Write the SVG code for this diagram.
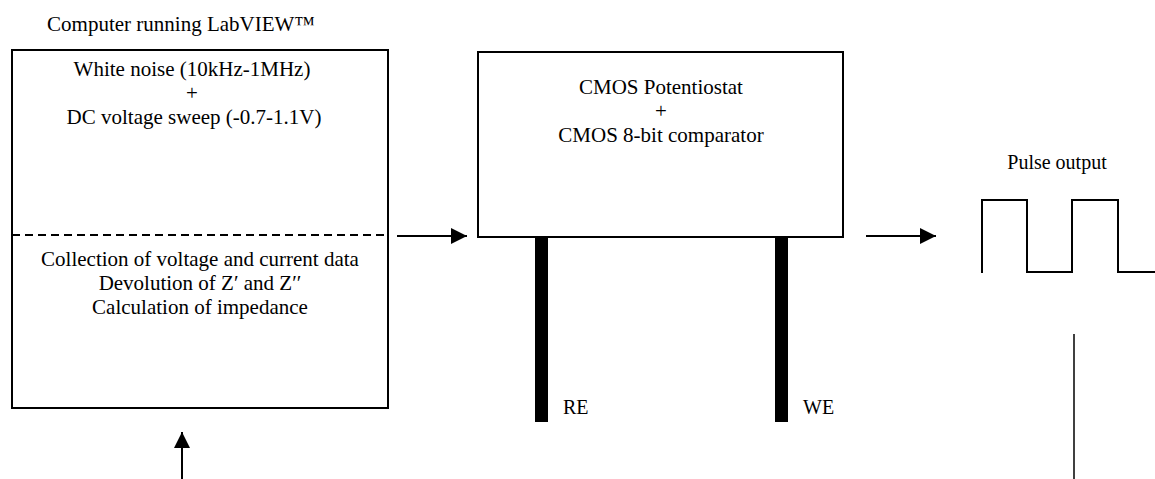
<svg xmlns="http://www.w3.org/2000/svg" width="1155" height="479" viewBox="0 0 1155 479">
<style>
text{font-family:"Liberation Serif","Times New Roman",serif;font-size:21px;fill:#000}
.c{text-anchor:middle}
.s{font-size:20px}
.box{fill:#fff;stroke:#000;stroke-width:2}
.ln{stroke:#000;stroke-width:2;fill:none}
</style>
<defs>
<marker id="ah" viewBox="0 0 10 10" refX="10" refY="5" markerWidth="16" markerHeight="16" markerUnits="userSpaceOnUse" orient="auto">
<path d="M0,0 L10,5 L0,10 Z" fill="#000"/>
</marker>
</defs>
<rect width="1155" height="479" fill="#fff"/>
<g id="computer">
<text class="c" x="181" y="31">Computer running LabVIEW™</text>
<rect class="box" x="12" y="50" width="376" height="358"/>
<line x1="12" y1="235" x2="388" y2="235" stroke="#000" stroke-width="2" stroke-dasharray="8,5"/>
<text class="c" x="192" y="76">White noise (10kHz-1MHz)</text>
<text class="c" x="192" y="100">+</text>
<text class="c" x="194" y="124">DC voltage sweep (-0.7-1.1V)</text>
<text class="c" x="200" y="266">Collection of voltage and current data</text>
<text class="c" x="200" y="290">Devolution of Z′ and Z′′</text>
<text class="c" x="200" y="314">Calculation of impedance</text>
</g>
<g id="potentiostat">
<rect class="box" x="478" y="52" width="365" height="185"/>
<text class="c" x="661" y="94">CMOS Potentiostat</text>
<text class="c" x="661" y="118">+</text>
<text class="c" x="661" y="142">CMOS 8-bit comparator</text>
<rect x="535" y="237" width="13" height="185" fill="#000"/>
<rect x="775" y="237" width="13" height="185" fill="#000"/>
<text class="s" x="563" y="414">RE</text>
<text class="s" x="803" y="414">WE</text>
</g>
<g id="pulse">
<text class="c s" x="1057" y="169">Pulse output</text>
<polyline class="ln" points="982,273 982,200 1027,200 1027,272 1072,272 1072,200 1118,200 1118,272 1155,272"/>
</g>
<g id="connectors">
<line class="ln" x1="397" y1="236" x2="467" y2="236" marker-end="url(#ah)"/>
<line class="ln" x1="866" y1="236" x2="936" y2="236" marker-end="url(#ah)"/>
<line class="ln" x1="182" y1="479" x2="182" y2="432" marker-end="url(#ah)"/>
<line x1="1074" y1="334" x2="1074" y2="479" stroke="#000" stroke-width="1.5"/>
</g>
</svg>
